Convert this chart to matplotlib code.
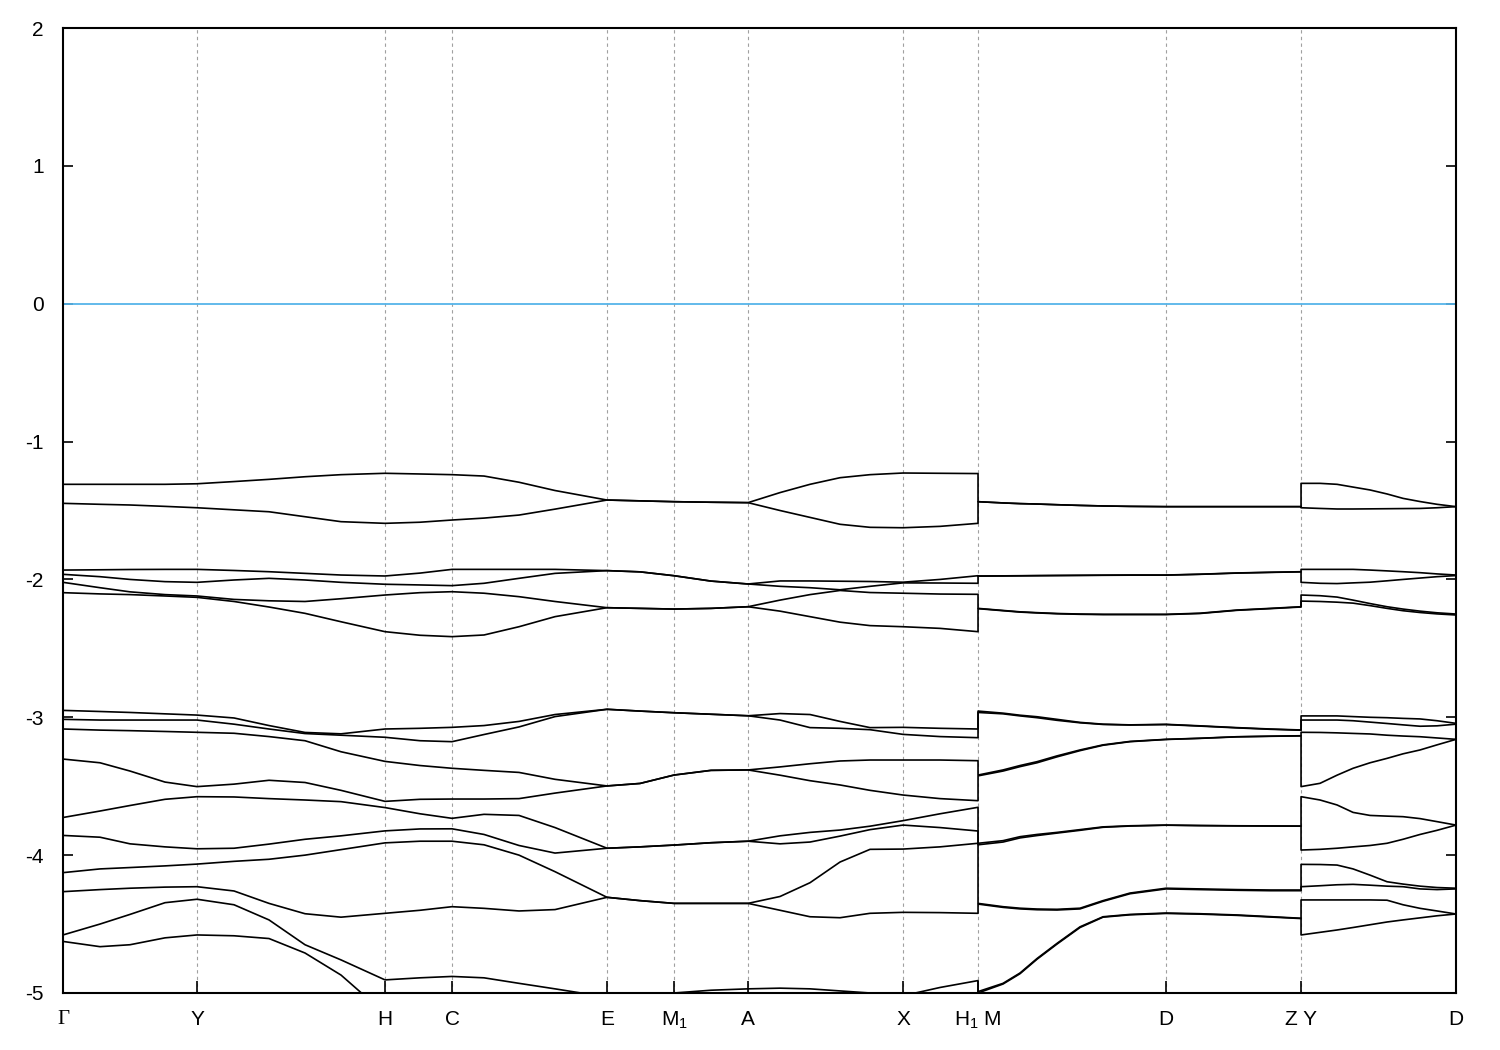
import matplotlib.pyplot as plt

plt.rcParams['font.family'] = 'Liberation Sans'
plt.rcParams['mathtext.fontset'] = 'custom'
plt.rcParams['mathtext.rm'] = 'Liberation Sans'
plt.rcParams['axes.unicode_minus'] = False

# k-path (three pieces: Γ..H1, M..Z, Y..D), repeated k at the breaks
k_path = [0.000, 0.037, 0.067, 0.102, 0.134, 0.171, 0.206, 0.242, 0.278, 0.322,
          0.357, 0.389, 0.421, 0.456, 0.492, 0.544, 0.577, 0.611, 0.648, 0.685,
          0.717, 0.747, 0.777, 0.807, 0.840, 0.877, 0.915,
          0.915, 0.940, 0.957, 0.974, 0.994, 1.017, 1.040, 1.067, 1.103, 1.137,
          1.174, 1.207, 1.238,
          1.238, 1.257, 1.274, 1.290, 1.307, 1.324, 1.340, 1.357, 1.374, 1.393]

band01 = [-1.31, -1.31, -1.31, -1.31, -1.306, -1.29, -1.274, -1.255, -1.24, -1.23,
          -1.235, -1.24, -1.25, -1.295, -1.355, -1.424, -1.43, -1.436, -1.44, -1.443,
          -1.37, -1.31, -1.262, -1.24, -1.228, -1.23, -1.232,
          -1.436, -1.445, -1.45, -1.453, -1.458, -1.463, -1.467, -1.47, -1.472, -1.472,
          -1.472, -1.472, -1.472,
          -1.303, -1.303, -1.31, -1.33, -1.351, -1.38, -1.412, -1.435, -1.455, -1.472]
band02 = [-1.448, -1.455, -1.46, -1.47, -1.48, -1.495, -1.509, -1.545, -1.581, -1.593,
          -1.585, -1.569, -1.555, -1.533, -1.49, -1.424, -1.43, -1.436, -1.44, -1.443,
          -1.50, -1.55, -1.60, -1.622, -1.625, -1.615, -1.593,
          -1.436, -1.445, -1.45, -1.453, -1.458, -1.463, -1.467, -1.47, -1.472, -1.472,
          -1.472, -1.472, -1.472,
          -1.48, -1.485, -1.489, -1.489, -1.488, -1.487, -1.486, -1.485, -1.48, -1.472]
band03 = [-1.932, -1.93, -1.928, -1.927, -1.927, -1.935, -1.944, -1.956, -1.968, -1.975,
          -1.954, -1.927, -1.927, -1.927, -1.927, -1.936, -1.945, -1.973, -2.012, -2.033,
          -2.011, -2.011, -2.013, -2.015, -2.02, -2.0, -1.973,
          -1.975, -1.974, -1.973, -1.972, -1.971, -1.97, -1.969, -1.968, -1.968, -1.962,
          -1.953, -1.948, -1.944,
          -1.927, -1.927, -1.927, -1.927, -1.932, -1.938, -1.944, -1.951, -1.96, -1.968]
band04 = [-1.963, -1.98, -2.0, -2.016, -2.021, -2.004, -1.992, -2.004, -2.021, -2.035,
          -2.04, -2.045, -2.028, -1.992, -1.956, -1.936, -1.945, -1.973, -2.012, -2.033,
          -2.05, -2.06, -2.075, -2.05, -2.025, -2.026, -2.028,
          -1.976, -1.975, -1.974, -1.973, -1.972, -1.971, -1.97, -1.969, -1.969, -1.963,
          -1.954, -1.949, -1.945,
          -2.021, -2.028, -2.03, -2.025, -2.02, -2.01, -2.0, -1.99, -1.98, -1.972]
band05 = [-2.021, -2.06, -2.09, -2.11, -2.12, -2.145, -2.155, -2.16, -2.14, -2.113,
          -2.096, -2.089, -2.10, -2.125, -2.16, -2.205, -2.21, -2.215, -2.21, -2.198,
          -2.15, -2.11, -2.08, -2.095, -2.10, -2.106, -2.108,
          -2.21, -2.225, -2.235, -2.241, -2.247, -2.251, -2.253, -2.253, -2.253, -2.245,
          -2.222, -2.21, -2.198,
          -2.113, -2.118, -2.128, -2.15, -2.175, -2.198, -2.215, -2.23, -2.242, -2.251]
band06 = [-2.096, -2.105, -2.11, -2.12, -2.13, -2.16, -2.20, -2.246, -2.307, -2.379,
          -2.405, -2.415, -2.403, -2.343, -2.27, -2.205, -2.21, -2.215, -2.21, -2.198,
          -2.23, -2.27, -2.31, -2.335, -2.343, -2.355, -2.379,
          -2.212, -2.227, -2.237, -2.243, -2.249, -2.253, -2.255, -2.255, -2.255, -2.247,
          -2.224, -2.212, -2.2,
          -2.157, -2.16, -2.165, -2.172, -2.19, -2.21, -2.227, -2.24, -2.25, -2.258]
band07 = [-2.95, -2.958, -2.965, -2.975, -2.984, -3.005, -3.06, -3.11, -3.12, -3.085,
          -3.08, -3.073, -3.06, -3.03, -2.98, -2.942, -2.955, -2.967, -2.978, -2.989,
          -2.973, -2.98, -3.03, -3.075, -3.073, -3.08, -3.085,
          -2.955, -2.97, -2.985, -2.996, -3.015, -3.037, -3.05, -3.055, -3.051, -3.062,
          -3.075, -3.085, -3.092,
          -2.99, -2.99, -2.99, -2.995, -3.0, -3.003, -3.008, -3.012, -3.025, -3.044]
band08 = [-3.015, -3.02, -3.02, -3.02, -3.02, -3.05, -3.085, -3.118, -3.13, -3.145,
          -3.17, -3.177, -3.125, -3.07, -2.995, -2.942, -2.955, -2.967, -2.978, -2.989,
          -3.02, -3.075, -3.08, -3.09, -3.124, -3.14, -3.148,
          -2.965, -2.975, -2.99, -3.003, -3.022, -3.04, -3.052, -3.056, -3.053, -3.064,
          -3.077, -3.087, -3.094,
          -3.02, -3.02, -3.02, -3.025, -3.035, -3.045, -3.055, -3.065, -3.062, -3.05]
band09 = [-3.085, -3.093, -3.097, -3.103, -3.109, -3.116, -3.14, -3.17, -3.25, -3.32,
          -3.35, -3.37, -3.385, -3.40, -3.45, -3.498, -3.48, -3.419, -3.385, -3.382,
          -3.36, -3.337, -3.317, -3.31, -3.31, -3.31, -3.315,
          -3.419, -3.382, -3.35, -3.322, -3.28, -3.237, -3.20, -3.175, -3.16, -3.152,
          -3.141, -3.137, -3.134,
          -3.109, -3.11, -3.113, -3.117, -3.121, -3.13, -3.136, -3.141, -3.15, -3.16]
band10 = [-3.303, -3.33, -3.39, -3.47, -3.503, -3.485, -3.457, -3.473, -3.53, -3.61,
          -3.595, -3.593, -3.593, -3.59, -3.55, -3.498, -3.48, -3.419, -3.385, -3.382,
          -3.42, -3.46, -3.491, -3.53, -3.564, -3.59, -3.605,
          -3.425, -3.39, -3.358, -3.33, -3.287, -3.242, -3.203, -3.177, -3.161, -3.153,
          -3.142, -3.138, -3.135,
          -3.503, -3.479, -3.42, -3.37, -3.33, -3.298, -3.265, -3.237, -3.2, -3.16]
band11 = [-3.727, -3.68, -3.64, -3.595, -3.576, -3.578, -3.59, -3.60, -3.612, -3.655,
          -3.70, -3.733, -3.704, -3.712, -3.80, -3.95, -3.94, -3.927, -3.91, -3.899,
          -3.86, -3.835, -3.818, -3.79, -3.75, -3.70, -3.653,
          -3.914, -3.895, -3.866, -3.85, -3.835, -3.815, -3.795, -3.787, -3.782, -3.785,
          -3.787, -3.788, -3.789,
          -3.576, -3.60, -3.636, -3.69, -3.712, -3.717, -3.721, -3.735, -3.757, -3.782]
band12 = [-3.857, -3.87, -3.918, -3.94, -3.954, -3.95, -3.92, -3.885, -3.86, -3.824,
          -3.81, -3.809, -3.85, -3.93, -3.985, -3.95, -3.94, -3.927, -3.91, -3.899,
          -3.918, -3.905, -3.862, -3.815, -3.782, -3.80, -3.825,
          -3.925, -3.905, -3.875, -3.858, -3.84, -3.82, -3.798, -3.789, -3.783, -3.786,
          -3.788, -3.789, -3.79,
          -3.963, -3.958, -3.95, -3.94, -3.93, -3.914, -3.885, -3.85, -3.82, -3.782]
band13 = [-4.127, -4.10, -4.09, -4.078, -4.065, -4.045, -4.03, -4.00, -3.96, -3.911,
          -3.899, -3.899, -3.925, -4.0, -4.12, -4.306, -4.33, -4.35, -4.35, -4.35,
          -4.30, -4.20, -4.05, -3.958, -3.956, -3.94, -3.914,
          -4.35, -4.374, -4.385, -4.391, -4.393, -4.385, -4.33, -4.275, -4.24, -4.245,
          -4.25, -4.253, -4.253,
          -4.067, -4.068, -4.072, -4.10, -4.145, -4.193, -4.21, -4.225, -4.235, -4.24]
band14 = [-4.265, -4.25, -4.24, -4.232, -4.229, -4.26, -4.35, -4.425, -4.45, -4.422,
          -4.40, -4.374, -4.386, -4.405, -4.395, -4.306, -4.33, -4.35, -4.35, -4.35,
          -4.40, -4.447, -4.454, -4.422, -4.415, -4.417, -4.422,
          -4.355, -4.379, -4.39, -4.396, -4.398, -4.39, -4.335, -4.28, -4.245, -4.25,
          -4.255, -4.258, -4.258,
          -4.229, -4.222, -4.215, -4.212, -4.218, -4.225, -4.229, -4.245, -4.25, -4.245]
band15 = [-4.579, -4.50, -4.43, -4.345, -4.32, -4.36, -4.47, -4.65, -4.76, -4.905,
          -4.89, -4.88, -4.89, -4.93, -4.97, -5.03, -5.02, -5.0, -4.98, -4.97,
          -4.965, -4.97, -4.985, -5.0, -5.02, -4.96, -4.91,
          -4.99, -4.93, -4.855, -4.75, -4.64, -4.52, -4.447, -4.43, -4.42, -4.425,
          -4.434, -4.446, -4.458,
          -4.325, -4.325, -4.325, -4.325, -4.325, -4.327, -4.36, -4.386, -4.405, -4.427]
band16 = [-4.626, -4.664, -4.65, -4.60, -4.579, -4.585, -4.605, -4.71, -4.87, -5.15,
          -5.2, -5.2, -5.2, -5.2, -5.15, -5.1, -5.08, -5.06, -5.05, -5.04,
          -5.04, -5.05, -5.06, -5.08, -5.1, -5.08, -5.05,
          -5.0, -4.935, -4.86, -4.755, -4.645, -4.525, -4.45, -4.433, -4.423, -4.428,
          -4.437, -4.449, -4.46,
          -4.579, -4.56, -4.543, -4.525, -4.505, -4.485, -4.47, -4.455, -4.44, -4.427]

bands = [band01, band02, band03, band04, band05, band06, band07, band08,
         band09, band10, band11, band12, band13, band14, band15, band16]

tick_pos = [0.0, 0.134, 0.322, 0.389, 0.544, 0.611, 0.685, 0.840, 0.915, 1.103, 1.238, 1.393]
tick_lab = ['Γ', 'Y', 'H', 'C', 'E', 'M$_1$', 'A', 'X', 'H$_1$ M', 'D', 'Z Y', 'D']

fig = plt.figure(figsize=(15, 10.5), dpi=100)
ax = fig.add_axes([0.042, 0.0543, 0.9287, 0.919])

# dashed guides at the high-symmetry points
for x in tick_pos[1:-1]:
    ax.axvline(x, color='#a0a0a0', lw=0.8, ls=(0, (3, 3)), zorder=1)

ax.axhline(0, color='#56b4e9', lw=1.3, zorder=2)

for b in bands:
    ax.plot(k_path, b, color='black', lw=1.2, zorder=3)

ax.set_xlim(tick_pos[0], tick_pos[-1])
ax.set_ylim(-5, 2)
ax.set_xticks(tick_pos)
ax.set_xticklabels(tick_lab, fontsize=15)
ax.set_yticks(range(-5, 3))
ax.tick_params(axis='y', direction='in', right=True, length=7, width=1.2, labelsize=15, pad=14)
ax.tick_params(axis='x', direction='in', top=False, length=9, width=1.2, labelsize=15, pad=12)
ax.get_xticklabels()[0].set_family('Liberation Serif')
for s in ax.spines.values():
    s.set_linewidth(1.5)

plt.savefig('out.png', dpi=100)
